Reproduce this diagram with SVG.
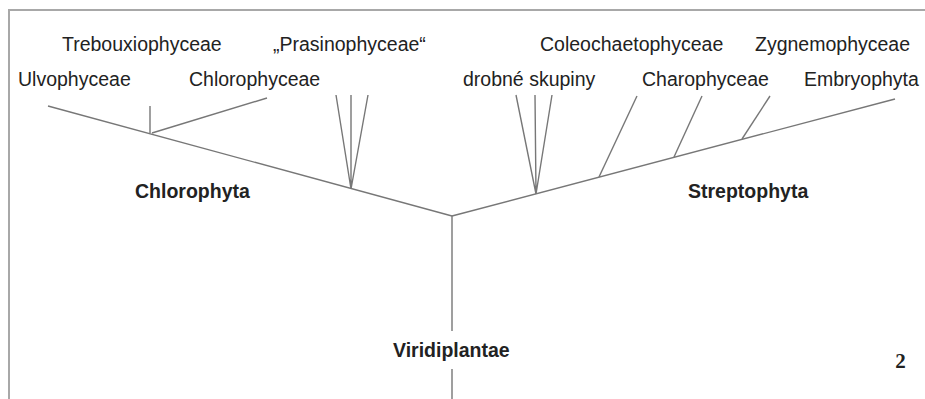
<svg xmlns="http://www.w3.org/2000/svg" width="925" height="399" viewBox="0 0 925 399">
<style>
.frame{fill:none;stroke:#a8a8a8;stroke-width:2}
.br{fill:none;stroke:#777;stroke-width:1.4;stroke-linecap:butt}
.lab{font-family:"Liberation Sans",Arial,sans-serif;font-size:19.5px;fill:#222}
.bold{font-family:"Liberation Sans",Arial,sans-serif;font-size:19.5px;font-weight:bold;fill:#222}
.num{font-family:"Liberation Serif","Times New Roman",serif;font-size:21px;font-weight:bold;fill:#222}
</style>
<rect width="925" height="399" fill="#fff"/>
<path class="frame" d="M9,399 V10 H925"/>
<g id="connectors">
<path class="br" d="M452,216 L48,106"/>
<path class="br" d="M452,216 L895,99"/>
<path class="br" d="M452,216 V331 M452,369 V399"/>
<path class="br" d="M150,133 V106"/>
<path class="br" d="M152,133 L267,98"/>
<path class="br" d="M351,189 L336,95 M351,189 V95 M351,189 L368,95"/>
<path class="br" d="M536,194 L516,95 M536,194 L535,95 M536,194 L552,95"/>
<path class="br" d="M599,177 L637,96"/>
<path class="br" d="M674,157 L702,96"/>
<path class="br" d="M742,139 L770,96"/>
</g>
<g id="ulvophyceae"><text class="lab" x="18" y="86">Ulvophyceae</text></g>
<g id="trebouxiophyceae"><text class="lab" x="62" y="51">Trebouxiophyceae</text></g>
<g id="chlorophyceae"><text class="lab" x="189" y="86">Chlorophyceae</text></g>
<g id="prasinophyceae"><text class="lab" x="273" y="51">„Prasinophyceae“</text></g>
<g id="drobne"><text class="lab" x="463" y="86">drobné skupiny</text></g>
<g id="coleochaetophyceae"><text class="lab" x="540" y="51">Coleochaetophyceae</text></g>
<g id="charophyceae"><text class="lab" x="642" y="86">Charophyceae</text></g>
<g id="zygnemophyceae"><text class="lab" x="755" y="51">Zygnemophyceae</text></g>
<g id="embryophyta"><text class="lab" x="804" y="86">Embryophyta</text></g>
<g id="chlorophyta"><text class="bold" x="135" y="198">Chlorophyta</text></g>
<g id="streptophyta"><text class="bold" x="688" y="198">Streptophyta</text></g>
<g id="viridiplantae"><text class="bold" x="393" y="357">Viridiplantae</text></g>
<text class="num" x="900.5" y="368" text-anchor="middle">2</text>
</svg>
